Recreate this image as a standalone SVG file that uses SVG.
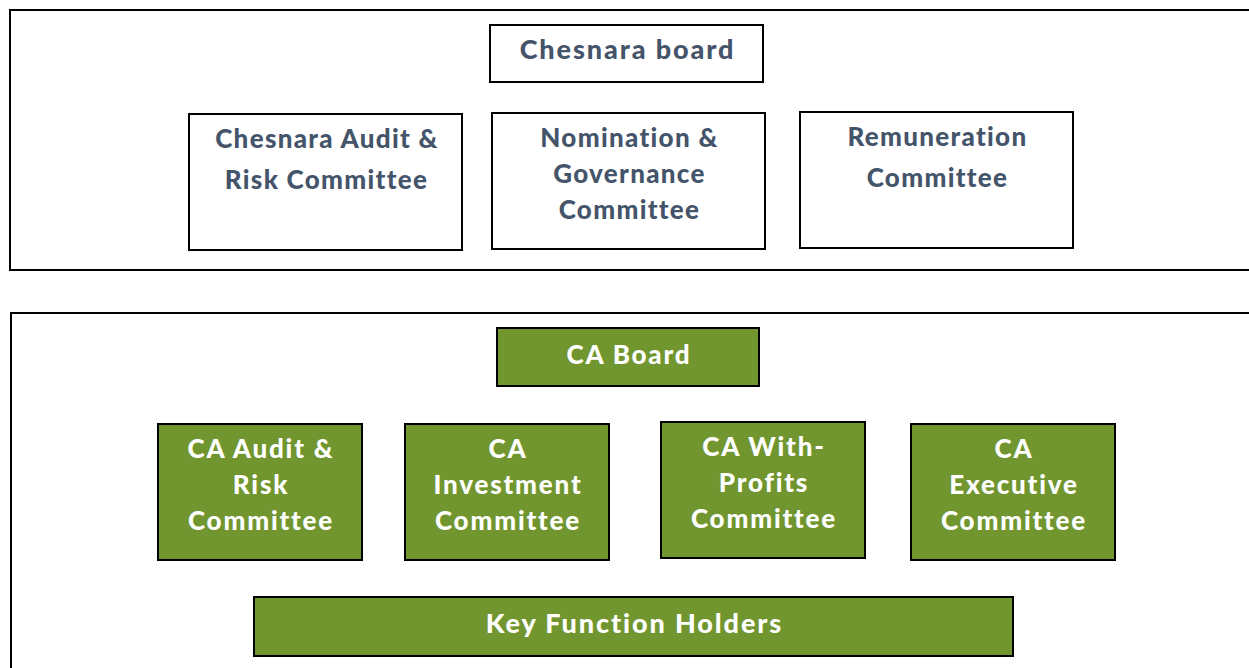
<svg xmlns="http://www.w3.org/2000/svg" width="1249" height="668" viewBox="0 0 1249 668">
<style>
.frame{fill:#fff;stroke:#000;stroke-width:2}
.wbox{fill:#fff;stroke:#000;stroke-width:2}
.gbox{fill:#71962F;stroke:#000;stroke-width:2}
.t{font-family:Lato,"Liberation Sans",sans-serif;font-weight:900;text-anchor:middle;letter-spacing:1.8px;font-size:26px}
.dk{fill:#44546A;letter-spacing:1.3px}
.wt{fill:#fff}
.big{font-size:27px;letter-spacing:1.9px}
</style>
<rect width="1249" height="668" fill="#fff"/>
<g id="group-chesnara">
<rect class="frame" x="10" y="10" width="1250" height="260"/>
</g>
<g id="group-ca">
<rect class="frame" x="11" y="313" width="1250" height="370"/>
</g>
<g id="connectors"></g>
<g id="chesnara-board">
<rect class="wbox" x="490" y="25" width="273" height="57"/>
<text class="t dk big" x="627.5" y="59">Chesnara board</text>
</g>
<g id="chesnara-audit">
<rect class="wbox" x="189" y="114" width="273" height="136"/>
<text class="t dk" x="327" y="148">Chesnara Audit &amp;</text>
<text class="t dk" x="326.5" y="189">Risk Committee</text>
</g>
<g id="nomination">
<rect class="wbox" x="492" y="113" width="273" height="136"/>
<text class="t dk" x="629.5" y="147">Nomination &amp;</text>
<text class="t dk" x="629.5" y="183">Governance</text>
<text class="t dk" x="629.5" y="219">Committee</text>
</g>
<g id="remuneration">
<rect class="wbox" x="800" y="112" width="273" height="136"/>
<text class="t dk" x="937.5" y="146">Remuneration</text>
<text class="t dk" x="937.5" y="187">Committee</text>
</g>
<g id="ca-board">
<rect class="gbox" x="497" y="328" width="262" height="58"/>
<text class="t wt" x="629" y="364">CA Board</text>
</g>
<g id="ca-audit">
<rect class="gbox" x="158" y="424" width="204" height="136"/>
<text class="t wt" x="261" y="458">CA Audit &amp;</text>
<text class="t wt" x="261" y="494">Risk</text>
<text class="t wt" x="261" y="530">Committee</text>
</g>
<g id="ca-investment">
<rect class="gbox" x="405" y="424" width="204" height="136"/>
<text class="t wt" x="508" y="458">CA</text>
<text class="t wt" x="508" y="494">Investment</text>
<text class="t wt" x="508" y="530">Committee</text>
</g>
<g id="ca-withprofits">
<rect class="gbox" x="661" y="422" width="204" height="136"/>
<text class="t wt" x="764" y="456">CA With-</text>
<text class="t wt" x="764" y="492">Profits</text>
<text class="t wt" x="764" y="528">Committee</text>
</g>
<g id="ca-executive">
<rect class="gbox" x="911" y="424" width="204" height="136"/>
<text class="t wt" x="1014" y="458">CA</text>
<text class="t wt" x="1014" y="494">Executive</text>
<text class="t wt" x="1014" y="530">Committee</text>
</g>
<g id="key-function-holders">
<rect class="gbox" x="254" y="597" width="759" height="59"/>
<text class="t wt big" x="634.5" y="633">Key Function Holders</text>
</g>
</svg>
